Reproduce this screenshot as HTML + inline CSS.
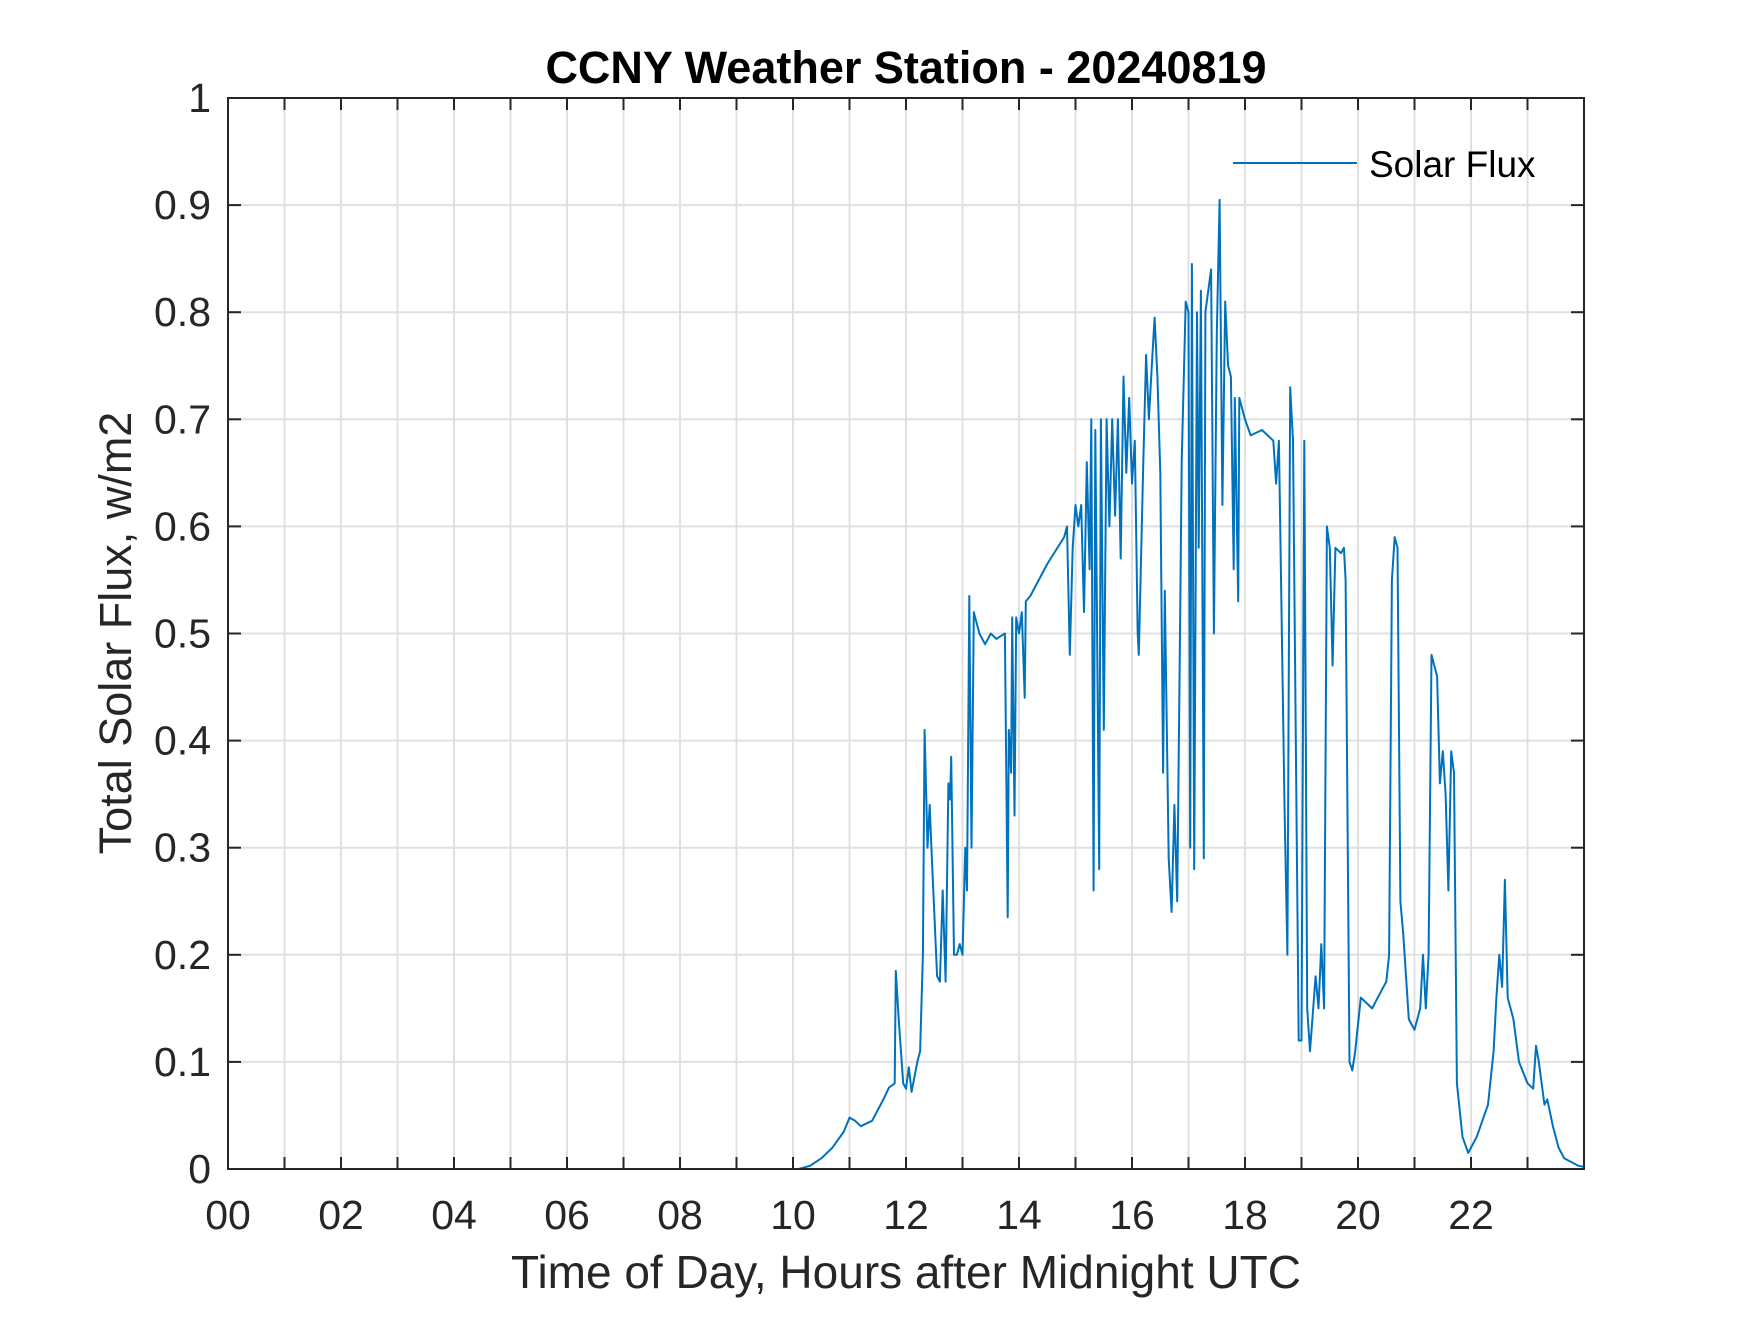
<!DOCTYPE html>
<html><head><meta charset="utf-8"><style>
body{margin:0;background:#fff}
svg text{font-family:"Liberation Sans",Arial,sans-serif;fill:#262626}
</style></head><body>
<svg id="chart" width="1750" height="1313" xmlns="http://www.w3.org/2000/svg">
<rect width="1750" height="1313" fill="#fff"/>
<g id="grid"></g>
<g id="series"></g>
<g id="axes"></g>
<text x="906" y="83" text-anchor="middle" font-size="45" font-weight="bold" style="fill:#000">CCNY Weather Station - 20240819</text>
<text x="906" y="1288" text-anchor="middle" font-size="46">Time of Day, Hours after Midnight UTC</text>
<text transform="translate(131,633) rotate(-90)" text-anchor="middle" font-size="45">Total Solar Flux, w/m2</text>
<g>
<line x1="1233" y1="163" x2="1357" y2="163" stroke="#0072BD" stroke-width="2"/>
<text x="1369" y="177" font-size="37" style="fill:#000">Solar Flux</text>
</g>
</svg>
<script>
const hours=[0,10.1,10.3,10.5,10.7,10.9,11.0,11.1,11.2,11.4,11.6,11.7,11.8,11.82,11.87,11.95,12.0,12.05,12.1,12.2,12.25,12.3,12.33,12.38,12.42,12.45,12.55,12.6,12.65,12.7,12.75,12.78,12.8,12.85,12.9,12.95,13.0,13.05,13.08,13.12,13.16,13.2,13.3,13.4,13.5,13.6,13.75,13.8,13.82,13.86,13.88,13.92,13.95,14.0,14.05,14.1,14.12,14.2,14.5,14.8,14.85,14.9,14.95,15.0,15.05,15.1,15.15,15.2,15.25,15.28,15.32,15.35,15.42,15.45,15.5,15.55,15.6,15.65,15.7,15.75,15.8,15.85,15.9,15.95,16.0,16.05,16.1,16.12,16.2,16.25,16.3,16.35,16.4,16.45,16.5,16.55,16.58,16.65,16.7,16.75,16.8,16.85,16.88,16.95,17.0,17.03,17.06,17.1,17.15,17.18,17.22,17.27,17.3,17.4,17.45,17.5,17.55,17.6,17.65,17.7,17.75,17.8,17.82,17.88,17.9,18.0,18.1,18.3,18.5,18.55,18.6,18.7,18.75,18.8,18.85,18.9,18.95,19.0,19.05,19.1,19.15,19.25,19.3,19.35,19.4,19.45,19.5,19.55,19.6,19.7,19.75,19.78,19.85,19.9,19.95,20.05,20.15,20.25,20.4,20.5,20.55,20.6,20.65,20.7,20.75,20.8,20.85,20.9,21.0,21.1,21.15,21.2,21.25,21.3,21.35,21.4,21.45,21.5,21.55,21.6,21.65,21.7,21.75,21.85,21.95,22.1,22.3,22.4,22.45,22.5,22.55,22.6,22.65,22.75,22.85,23.0,23.1,23.15,23.2,23.3,23.35,23.45,23.55,23.65,23.9,24];
const flux=[0,0,0.003,0.01,0.02,0.035,0.048,0.045,0.04,0.045,0.065,0.076,0.08,0.185,0.14,0.08,0.075,0.095,0.072,0.1,0.11,0.2,0.41,0.3,0.34,0.3,0.18,0.175,0.26,0.175,0.36,0.345,0.385,0.2,0.2,0.21,0.2,0.3,0.26,0.535,0.3,0.52,0.5,0.49,0.5,0.495,0.5,0.235,0.41,0.37,0.515,0.33,0.515,0.5,0.52,0.44,0.53,0.535,0.565,0.59,0.6,0.48,0.58,0.62,0.6,0.62,0.52,0.66,0.56,0.7,0.26,0.69,0.28,0.7,0.41,0.7,0.6,0.7,0.61,0.7,0.57,0.74,0.65,0.72,0.64,0.68,0.5,0.48,0.66,0.76,0.7,0.75,0.795,0.74,0.65,0.37,0.54,0.29,0.24,0.34,0.25,0.5,0.66,0.81,0.8,0.3,0.845,0.28,0.8,0.58,0.82,0.29,0.8,0.84,0.5,0.78,0.905,0.62,0.81,0.75,0.74,0.56,0.72,0.53,0.72,0.7,0.685,0.69,0.68,0.64,0.68,0.34,0.2,0.73,0.68,0.4,0.12,0.12,0.68,0.15,0.11,0.18,0.15,0.21,0.15,0.6,0.58,0.47,0.58,0.575,0.58,0.55,0.1,0.092,0.11,0.16,0.155,0.15,0.165,0.175,0.2,0.55,0.59,0.58,0.25,0.22,0.18,0.14,0.13,0.15,0.2,0.15,0.2,0.48,0.47,0.46,0.36,0.39,0.35,0.26,0.39,0.37,0.08,0.03,0.015,0.03,0.06,0.11,0.16,0.2,0.17,0.27,0.16,0.14,0.1,0.08,0.075,0.115,0.1,0.06,0.065,0.04,0.02,0.01,0.003,0.002];
const xTickLabels=["00","02","04","06","08","10","12","14","16","18","20","22"];
const yTickLabels=["0","0.1","0.2","0.3","0.4","0.5","0.6","0.7","0.8","0.9","1"];
const L=228,R=1584,T=98,B=1169;
const xs=h=>L+(R-L)*h/24;
const ys=v=>B-(B-T)*v/1;
const NS="http://www.w3.org/2000/svg";
function mk(t,parent,a){const e=document.createElementNS(NS,t);for(const k in a)e.setAttribute(k,a[k]);parent.appendChild(e);return e;}
const grid=document.getElementById('grid'),axes=document.getElementById('axes'),series=document.getElementById('series');
for(let h=1;h<24;h++){
 const g=mk('line',grid,{x1:xs(h),x2:xs(h),y1:T,y2:B,stroke:'#e0e0e0','stroke-width':2});
 
 
 const t1=mk('line',axes,{x1:xs(h),x2:xs(h),y1:B,y2:B-12,stroke:'#262626','stroke-width':2});
 
 
 const t2=mk('line',axes,{x1:xs(h),x2:xs(h),y1:T,y2:T+12,stroke:'#262626','stroke-width':2});
 
 
}
xTickLabels.forEach((s,i)=>{
 const t=mk('text',axes,{x:xs(i*2),y:B+60,'text-anchor':'middle','font-size':41});
 t.textContent=s;
 
 
});
yTickLabels.forEach((s,i)=>{
 const v=i/10,y=ys(v);
 if(i>0&&i<10){
  const g=mk('line',grid,{x1:L,x2:R,y1:y,y2:y,stroke:'#e0e0e0','stroke-width':2});
  
  
  const a=mk('line',axes,{x1:L,x2:L+13,y1:y,y2:y,stroke:'#262626','stroke-width':2});
  
  
  const b=mk('line',axes,{x1:R,x2:R-13,y1:y,y2:y,stroke:'#262626','stroke-width':2});
  
  
 }
 const t=mk('text',axes,{x:L-17,y:y+14,'text-anchor':'end','font-size':41});
 t.textContent=s;
 
 
});
const box=mk('rect',axes,{x:L,y:T,width:R-L,height:B-T,fill:'none',stroke:'#262626','stroke-width':2});


const d=hours.map((h,i)=>(i?'L':'M')+xs(h).toFixed(1)+','+ys(flux[i]).toFixed(1)).join('');
const p=mk('path',series,{d:d,fill:'none',stroke:'#0072BD','stroke-width':2,'stroke-linejoin':'round'});


</script>
</body></html>
